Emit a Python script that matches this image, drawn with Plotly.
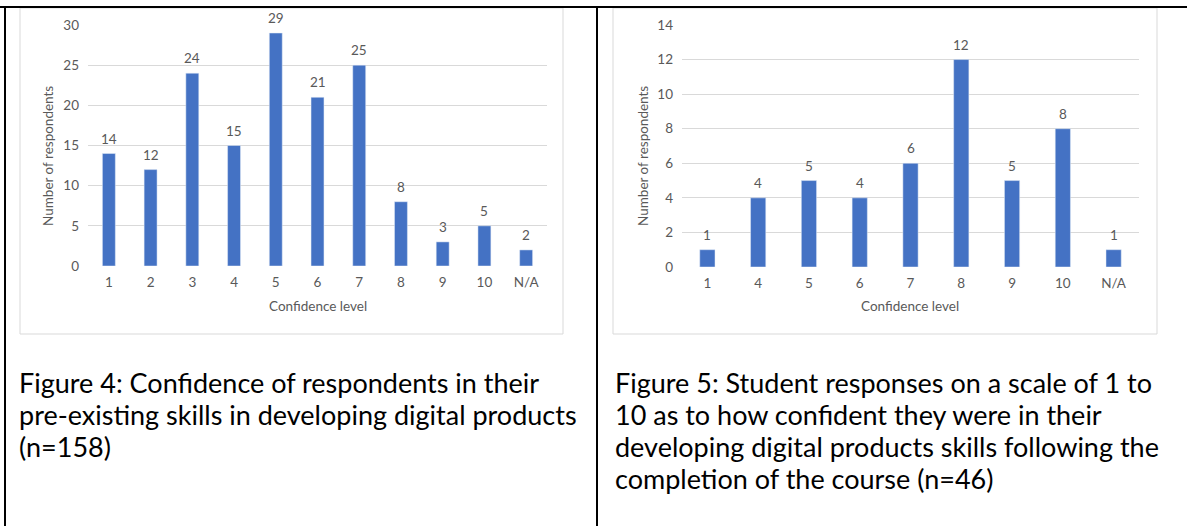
import plotly.graph_objects as go

W, H = 1187, 526

# Figure 4 data
cats1 = ["1", "2", "3", "4", "5", "6", "7", "8", "9", "10", "N/A"]
vals1 = [14, 12, 24, 15, 29, 21, 25, 8, 3, 5, 2]
yticks1 = [0, 5, 10, 15, 20, 25, 30]

# Figure 5 data
cats2 = ["1", "4", "5", "6", "7", "8", "9", "10", "N/A"]
vals2 = [1, 4, 5, 4, 6, 12, 5, 8, 1]
yticks2 = [0, 2, 4, 6, 8, 10, 12, 14]

caption1 = ["Figure 4: Confidence of respondents in their",
            "pre-existing skills in developing digital products",
            "(n=158)"]
caption2 = ["Figure 5: Student responses on a scale of 1 to",
            "10 as to how confident they were in their",
            "developing digital products skills following the",
            "completion of the course (n=46)"]

BAR = "#4472C4"
TXT = "#595959"
GRID = "#d9d9d9"
FONT = "Lato"
FS = 13.5


def px(x):
    return x / W


def py(y):
    return 1 - y / H


fig = go.Figure()
fig.add_trace(go.Bar(x=cats1, y=vals1, marker_color=BAR, xaxis="x", yaxis="y",
                     width=0.31, hoverinfo="x+y"))
fig.add_trace(go.Bar(x=cats2, y=vals2, marker_color=BAR, xaxis="x2", yaxis="y2",
                     width=0.3, hoverinfo="x+y"))

annotations = []
for i, v in enumerate(vals1):
    annotations.append(dict(x=i, y=v, xref="x", yref="y", text=str(v), showarrow=False,
                            xanchor="center", yanchor="bottom", yshift=5,
                            font=dict(size=FS, color=TXT, family=FONT)))
for i, v in enumerate(vals2):
    annotations.append(dict(x=i, y=v, xref="x2", yref="y2", text=str(v), showarrow=False,
                            xanchor="center", yanchor="bottom", yshift=5,
                            font=dict(size=FS, color=TXT, family=FONT)))

# axis titles
for (xc, yc, txt, ang) in [(48, 156, "Number of respondents", -90),
                           (318, 306, "Confidence level", 0),
                           (643, 156, "Number of respondents", -90),
                           (910, 306, "Confidence level", 0)]:
    annotations.append(dict(x=px(xc), y=py(yc), xref="paper", yref="paper", text=txt,
                            textangle=ang, showarrow=False, xanchor="center", yanchor="middle",
                            font=dict(size=FS, color=TXT, family=FONT)))

# captions, one annotation per line
for x0, lines in [(17, caption1), (613, caption2)]:
    for k, line in enumerate(lines):
        annotations.append(dict(x=px(x0), y=py(382 + 32 * k), xref="paper", yref="paper",
                                text=line, showarrow=False, xanchor="left", yanchor="middle",
                                align="left", font=dict(size=27, color="#000000", family=FONT)))

shapes = [
    # chart frames
    dict(type="rect", xref="paper", yref="paper", x0=px(20), x1=px(563), y0=py(334), y1=py(8),
         line=dict(color=GRID, width=1)),
    dict(type="rect", xref="paper", yref="paper", x0=px(613), x1=px(1157), y0=py(334), y1=py(8),
         line=dict(color=GRID, width=1)),
    # table borders
    dict(type="line", xref="paper", yref="paper", x0=0, x1=1, y0=py(7), y1=py(7),
         line=dict(color="#000000", width=2)),
    dict(type="line", xref="paper", yref="paper", x0=px(5), x1=px(5), y0=0, y1=py(7),
         line=dict(color="#000000", width=2)),
    dict(type="line", xref="paper", yref="paper", x0=px(597), x1=px(597), y0=0, y1=py(7),
         line=dict(color="#000000", width=2)),
]

axis_common = dict(showline=False, ticks="", automargin=False,
                   tickfont=dict(size=FS, color=TXT, family=FONT), ticklabelstandoff=6)
yaxis_common = dict(showgrid=True, gridcolor=GRID, gridwidth=1, zeroline=False, showline=False,
                    ticks="", automargin=False,
                    tickfont=dict(size=FS, color=TXT, family=FONT), ticklabelstandoff=8)

fig.update_layout(
    width=W, height=H,
    margin=dict(l=0, r=0, t=0, b=0, autoexpand=False),
    paper_bgcolor="white", plot_bgcolor="white",
    showlegend=False,
    bargap=0.69,
    xaxis=dict(domain=[px(88), px(547)], anchor="y", type="category", categoryorder="array",
               categoryarray=cats1, **axis_common),
    yaxis=dict(domain=[py(266), py(25)], anchor="x", range=[0, 30], tickvals=yticks1, **yaxis_common),
    xaxis2=dict(domain=[px(682), px(1139)], anchor="y2", type="category", categoryorder="array",
                categoryarray=cats2, **axis_common),
    yaxis2=dict(domain=[py(267), py(25)], anchor="x2", range=[0, 14], tickvals=yticks2, **yaxis_common),
    annotations=annotations,
    shapes=shapes,
)

post = (
    "document.documentElement.style.margin='0';"
    "document.documentElement.style.overflow='hidden';"
    "document.body.style.margin='0';"
    "document.body.style.overflow='hidden';"
    "var d=document.getElementById('{plot_id}');"
    "d.style.position='fixed';d.style.top='0px';d.style.left='0px';"
)

fig.write_html("out.html", config={"displayModeBar": False}, post_script=post)
